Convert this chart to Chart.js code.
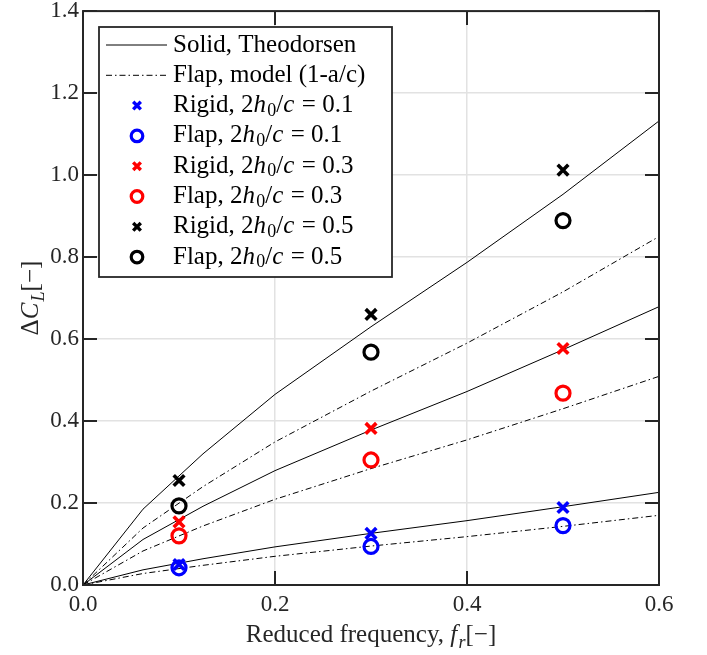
<!DOCTYPE html>
<html><head><meta charset="utf-8">
<script src="https://cdn.jsdelivr.net/npm/chart.js@4"></script>
<style>html,body{margin:0;padding:0;background:#fff}canvas{display:block}</style>
</head><body>
<canvas id="c" width="707" height="655"></canvas>
<script>
// ---------- data ----------
const freqCurve = [0, 0.0625, 0.125, 0.2, 0.3, 0.4, 0.5, 0.6];
const solid01 = [0, 0.037, 0.064, 0.093, 0.126, 0.157, 0.191, 0.226];
const solid03 = [0, 0.111, 0.192, 0.279, 0.378, 0.472, 0.574, 0.679];
const solid05 = [0, 0.185, 0.320, 0.465, 0.630, 0.787, 0.953, 1.132];
const model01 = [0, 0.028, 0.048, 0.070, 0.095, 0.118, 0.143, 0.170];
const model03 = [0, 0.083, 0.144, 0.209, 0.284, 0.354, 0.430, 0.509];
const model05 = [0, 0.139, 0.240, 0.349, 0.473, 0.590, 0.715, 0.850];

const freqExp = [0.1, 0.3, 0.5];
const rigid01 = [0.050, 0.126, 0.189];
const flap01  = [0.042, 0.094, 0.145];
const rigid03 = [0.154, 0.382, 0.577];
const flap03  = [0.120, 0.305, 0.468];
const rigid05 = [0.255, 0.660, 1.012];
const flap05  = [0.193, 0.568, 0.889];

const xTicks = [0, 0.2, 0.4, 0.6];
const yTicks = [0, 0.2, 0.4, 0.6, 0.8, 1.0, 1.2, 1.4];
const seriesColors = ['#0000ff', '#ff0000', '#000000'];
const amplitudes = ['0.1', '0.3', '0.5'];

// ---------- helpers ----------
const FONT = "'Liberation Serif', 'Times New Roman', serif";
const DASHDOT = [6, 3, 1.5, 3];
const pts = (xs, ys) => xs.map((x, i) => ({x: x, y: ys[i]}));

function lineDs(ys, dashed) {
  return { data: pts(freqCurve, ys), showLine: true, borderColor: '#000', borderWidth: 1,
    borderDash: dashed ? DASHDOT : [], pointRadius: 0, fill: false, tension: 0, order: 2 };
}
function markDs(ys, color, kind) {
  return { data: pts(freqExp, ys), showLine: false, borderColor: color, backgroundColor: 'rgba(0,0,0,0)',
    pointStyle: kind === 'x' ? 'crossRot' : 'circle', pointRadius: kind === 'x' ? 7.5 : 7,
    pointBorderWidth: kind === 'x' ? 3.6 : 3.2, borderWidth: 3, order: 1 };
}

function fontFor(s, size) {
  if (s === 'i') return 'italic ' + size + 'px ' + FONT;
  if (s === 'sub') return Math.round(size * 0.7) + 'px ' + FONT;
  if (s === 'isub') return 'italic ' + Math.round(size * 0.7) + 'px ' + FONT;
  return size + 'px ' + FONT;
}
function drawParts(ctx, parts, x, y, size) {
  let cx = x;
  for (const [t, s] of parts) {
    const dy = (s === 'sub' || s === 'isub') ? size * 0.22 : 0;
    ctx.font = fontFor(s, size);
    ctx.fillText(t, cx, y + dy);
    cx += ctx.measureText(t).width + (s === 'i' ? size * 0.05 : 0);
  }
  return cx - x;
}
function measureParts(ctx, parts, size) {
  ctx.save();
  let w = 0;
  for (const [t, s] of parts) { ctx.font = fontFor(s, size); w += ctx.measureText(t).width + (s === 'i' ? size * 0.05 : 0); }
  ctx.restore();
  return w;
}

const decorPlugin = {
  id: 'decor',
  afterDraw(chart) {
    const ctx = chart.ctx, a = chart.chartArea;
    const xs = chart.scales.x, ys = chart.scales.y;
    ctx.save();
    // inward ticks on all four sides
    ctx.strokeStyle = '#262626'; ctx.lineWidth = 2; ctx.setLineDash([]);
    const TL = 14;
    ctx.beginPath();
    for (const v of xTicks) {
      const px = xs.getPixelForValue(v);
      ctx.moveTo(px, a.bottom); ctx.lineTo(px, a.bottom - TL);
      ctx.moveTo(px, a.top); ctx.lineTo(px, a.top + TL);
    }
    for (const v of yTicks) {
      const py = ys.getPixelForValue(v);
      ctx.moveTo(a.left, py); ctx.lineTo(a.left + TL, py);
      ctx.moveTo(a.right, py); ctx.lineTo(a.right - TL, py);
    }
    ctx.stroke();
    ctx.strokeRect(a.left, a.top, a.right - a.left, a.bottom - a.top);

    // axis titles
    ctx.fillStyle = '#262626'; ctx.textBaseline = 'alphabetic'; ctx.textAlign = 'left';
    const xt = [['Reduced frequency, ', 'r'], ['f', 'i'], ['r', 'isub'], ['[\u2212]', 'r']];
    const xw = measureParts(ctx, xt, 25);
    drawParts(ctx, xt, (a.left + a.right) / 2 - xw / 2, 642, 25);
    const yt = [['\u0394', 'r'], ['C', 'i'], ['L', 'isub'], ['[\u2212]', 'r']];
    const yw = measureParts(ctx, yt, 25);
    ctx.save();
    ctx.translate(38, (a.top + a.bottom) / 2);
    ctx.rotate(-Math.PI / 2);
    drawParts(ctx, yt, -yw / 2, 0, 25);
    ctx.restore();

    // legend
    const bx = 99, by = 27, bw = 293, bh = 250;
    ctx.fillStyle = '#fff';
    ctx.fillRect(bx, by, bw, bh);
    ctx.strokeStyle = '#262626'; ctx.lineWidth = 1.8;
    ctx.strokeRect(bx, by, bw, bh);
    const rowY = i => 45 + i * 30.3;
    const lx0 = 106, lx1 = 167, mx = 137, tx = 173, fs = 25;
    ctx.textBaseline = 'middle';
    ctx.strokeStyle = '#000'; ctx.lineWidth = 1;
    ctx.beginPath(); ctx.moveTo(lx0, rowY(0)); ctx.lineTo(lx1, rowY(0)); ctx.stroke();
    ctx.setLineDash(DASHDOT);
    ctx.beginPath(); ctx.moveTo(lx0, rowY(1)); ctx.lineTo(lx1, rowY(1)); ctx.stroke();
    ctx.setLineDash([]);
    ctx.fillStyle = '#000';
    drawParts(ctx, [['Solid, Theodorsen', 'r']], tx, rowY(0), fs);
    drawParts(ctx, [['Flap, model (1-a/c)', 'r']], tx, rowY(1), fs);
    for (let k = 0; k < 3; k++) {
      for (let j = 0; j < 2; j++) {
        const i = 2 + k * 2 + j, y = rowY(i);
        ctx.strokeStyle = seriesColors[k];
        ctx.beginPath();
        if (j === 0) {
          const r = 3.8; ctx.lineWidth = 3.4;
          ctx.moveTo(mx - r, y - r); ctx.lineTo(mx + r, y + r);
          ctx.moveTo(mx + r, y - r); ctx.lineTo(mx - r, y + r);
        } else {
          ctx.lineWidth = 3.2;
          ctx.arc(mx, y, 5.8, 0, Math.PI * 2);
        }
        ctx.stroke();
        ctx.fillStyle = '#000';
        drawParts(ctx, [[j === 0 ? 'Rigid, ' : 'Flap, ', 'r'], ['2', 'r'], ['h', 'i'], ['0', 'sub'],
          ['/', 'r'], ['c', 'i'], [' = ', 'r'], [amplitudes[k], 'r']], tx, y, fs);
      }
    }
    ctx.restore();
  }
};

new Chart(document.getElementById('c'), {
  type: 'scatter',
  data: {
    datasets: [
      lineDs(solid01, false), lineDs(solid03, false), lineDs(solid05, false),
      lineDs(model01, true), lineDs(model03, true), lineDs(model05, true),
      markDs(rigid01, seriesColors[0], 'x'), markDs(flap01, seriesColors[0], 'o'),
      markDs(rigid03, seriesColors[1], 'x'), markDs(flap03, seriesColors[1], 'o'),
      markDs(rigid05, seriesColors[2], 'x'), markDs(flap05, seriesColors[2], 'o')
    ]
  },
  options: {
    responsive: false, animation: false, devicePixelRatio: 1,
    layout: { padding: { top: 11, right: 48, left: 0, bottom: 0 } },
    plugins: { legend: { display: false }, tooltip: { enabled: false } },
    scales: {
      x: {
        type: 'linear', min: 0, max: 0.6,
        afterBuildTicks: s => { s.ticks = xTicks.map(v => ({value: v})); },
        afterFit: s => { s.height = 70; s.paddingLeft = 0; s.paddingRight = 0; },
        ticks: { callback: v => Number(v).toFixed(1), font: { family: FONT, size: 23 }, color: '#262626', padding: 6, maxRotation: 0 },
        grid: { color: '#e2e2e2', lineWidth: 1.5, drawTicks: false },
        border: { display: false }
      },
      y: {
        type: 'linear', min: 0, max: 1.4,
        afterBuildTicks: s => { s.ticks = yTicks.map(v => ({value: v})); },
        afterFit: s => { s.width = 83; s.paddingTop = 0; s.paddingBottom = 0; },
        ticks: { callback: v => Number(v).toFixed(1), font: { family: FONT, size: 23 }, color: '#262626', padding: 4 },
        grid: { color: '#e2e2e2', lineWidth: 1.5, drawTicks: false },
        border: { display: false }
      }
    }
  },
  plugins: [decorPlugin]
});
</script>
</body></html>
